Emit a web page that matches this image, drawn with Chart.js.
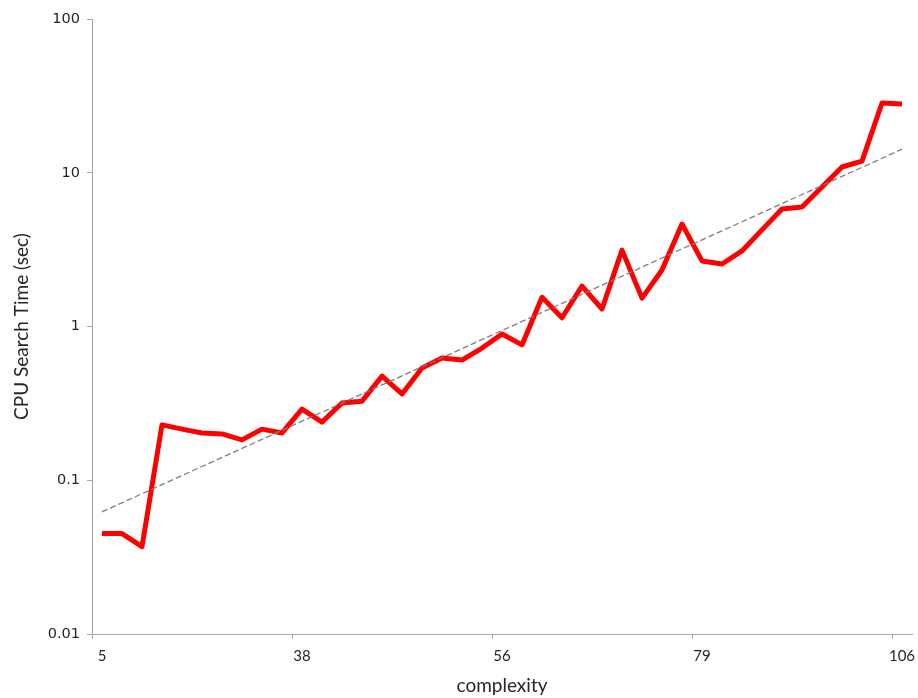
<!DOCTYPE html>
<html>
<head>
<meta charset="utf-8">
<title>CPU search time vs complexity</title>
<script src="https://cdn.jsdelivr.net/npm/chart.js@4/dist/chart.umd.min.js"></script>
<style>
  html, body { margin: 0; padding: 0; background: #ffffff; }
  #wrap { width: 918px; height: 698px; position: relative; }
</style>
</head>
<body>
<div id="wrap"><canvas id="chart" width="918" height="698"></canvas></div>
<script>
// Problem instances, one category slot each (41 runs)
const categories = Array.from({ length: 41 }, (_, i) => i);

// Labelled complexity values on the x axis and the slots they sit on
const tickIndex = [0, 10, 20, 30, 40];
const tickLabels = ['5', '38', '56', '79', '106'];

// Measured CPU search time in seconds for each run
const cpuTime = [
  0.045, 0.045, 0.037, 0.229, 0.215, 0.203, 0.200, 0.183, 0.215, 0.203,
  0.290, 0.239, 0.318, 0.327, 0.476, 0.364, 0.537, 0.624, 0.605, 0.724,
  0.893, 0.759, 1.55, 1.14, 1.83, 1.30, 3.14, 1.53, 2.33, 4.64,
  2.67, 2.55, 3.10, 4.25, 5.81, 5.98, 8.08, 10.9, 11.9, 28.4,
  28.0
];

// Decade ticks on the log axis
const yTickValues = [0.01, 0.1, 1, 10, 100];
const yTickLabels = ['0.01', '0.1', '1', '10', '100'];

// Exponential trend line: least-squares fit of log10(time) against run index
function exponentialTrend(values) {
  const n = values.length;
  const logs = values.map(v => Math.log10(v));
  const mx = (n - 1) / 2;
  const my = logs.reduce((a, b) => a + b, 0) / n;
  let sxy = 0, sxx = 0;
  logs.forEach((ly, i) => { sxy += (i - mx) * (ly - my); sxx += (i - mx) * (i - mx); });
  const slope = sxy / sxx;
  const icpt = my - slope * mx;
  return values.map((_, i) => Math.pow(10, icpt + slope * i));
}
const trend = exponentialTrend(cpuTime);

const axisGray = '#a6a6a6';
const textColor = '#262626';

new Chart(document.getElementById('chart').getContext('2d'), {
  type: 'line',
  data: {
    labels: categories,
    datasets: [
      {
        label: 'Trend',
        data: trend,
        borderColor: '#7f7f7f',
        borderWidth: 1.3,
        borderDash: [6, 3],
        pointRadius: 0,
        fill: false,
        tension: 0
      },
      {
        label: 'CPU Search Time',
        data: cpuTime,
        borderColor: '#ff0000',
        borderWidth: 5,
        borderJoinStyle: 'round',
        borderCapStyle: 'butt',
        pointRadius: 0,
        fill: false,
        tension: 0
      }
    ]
  },
  options: {
    responsive: false,
    animation: false,
    layout: { padding: { top: 19, right: 6, left: 0, bottom: 0 } },
    plugins: {
      legend: { display: false },
      tooltip: { enabled: false }
    },
    scales: {
      x: {
        type: 'category',
        offset: true,
        grid: {
          offset: true,
          drawOnChartArea: false,
          drawTicks: true,
          tickLength: 5,
          lineWidth: 1,
          color: ctx => tickIndex.includes(ctx.index) ? axisGray : 'rgba(0,0,0,0)'
        },
        border: { display: true, color: axisGray, width: 1 },
        ticks: {
          autoSkip: false,
          maxRotation: 0,
          minRotation: 0,
          padding: 8,
          color: textColor,
          font: { family: 'Lato', size: 15 },
          callback: (value, index) => {
            const k = tickIndex.indexOf(index);
            return k >= 0 ? tickLabels[k] : '';
          }
        },
        title: {
          display: true,
          text: 'complexity',
          color: textColor,
          font: { family: 'Lato', size: 19 },
          padding: { top: 2, bottom: 1 }
        },
        afterFit: axis => {
          axis.height = 64;
          axis.paddingLeft = 0;
          axis.paddingRight = 0;
        }
      },
      y: {
        type: 'logarithmic',
        min: 0.01,
        max: 100,
        afterBuildTicks: axis => { axis.ticks = yTickValues.map(v => ({ value: v })); },
        grid: {
          drawOnChartArea: false,
          drawTicks: true,
          tickLength: 5,
          lineWidth: 1,
          color: axisGray
        },
        border: { display: true, color: axisGray, width: 1 },
        ticks: {
          padding: 7,
          color: textColor,
          font: { family: 'DejaVu Sans', size: 14.5 },
          callback: value => {
            const k = yTickValues.findIndex(v => Math.abs(v - value) < v * 1e-6);
            return k >= 0 ? yTickLabels[k] : '';
          }
        },
        title: {
          display: true,
          text: 'CPU Search Time (sec)',
          color: textColor,
          font: { family: 'Lato', size: 19 },
          padding: { top: 10, bottom: 0 }
        },
        afterFit: axis => { axis.width = 92; }
      }
    }
  }
});
</script>
</body>
</html>
